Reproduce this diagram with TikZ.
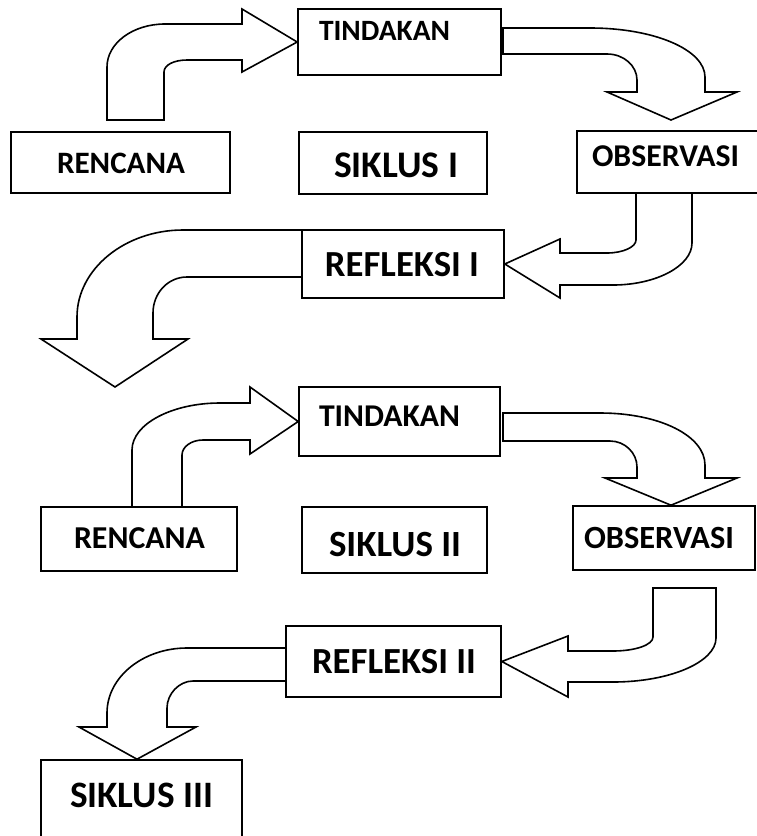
\documentclass[tikz,border=0pt]{standalone}
\usepackage{fontspec}
\setmainfont{Carlito}
\newcommand{\fitw}[2]{\resizebox{#1pt}{!}{\bfseries\fontsize{30}{32}\selectfont #2}}
\begin{document}
\begin{tikzpicture}[x=1pt,y=-1pt,
  box/.style={draw,line width=1.6pt,fill=white,rectangle,inner sep=0pt},
  blk/.style={draw,line width=1.6pt,fill=white,line join=miter},
  lbl/.style={inner sep=0pt}]
\useasboundingbox (0,0) rectangle (757,836);
% ---------- boxes ----------
\node[box,minimum width=219pt,minimum height=61pt] (ren1) at (120.5,162.5) {};
\node[box,minimum width=203pt,minimum height=66pt] (tin1) at (399.5,42) {};
\node[box,minimum width=188pt,minimum height=62pt] (sik1) at (393,163) {};
\node[box,minimum width=190pt,minimum height=62pt] (obs1) at (672,162) {};
\node[box,minimum width=202pt,minimum height=68pt] (ref1) at (403,264) {};
\node[box,minimum width=196pt,minimum height=64pt] (ren2) at (139,539) {};
\node[box,minimum width=201pt,minimum height=69pt] (tin2) at (399.5,421.5) {};
\node[box,minimum width=185pt,minimum height=66pt] (sik2) at (394.5,540) {};
\node[box,minimum width=182pt,minimum height=64pt] (obs2) at (664,538) {};
\node[box,minimum width=215pt,minimum height=71pt] (ref2) at (393.5,661.5) {};
\node[box,minimum width=201pt,minimum height=90pt] (sik3) at (141.5,805) {};
% ---------- block arrows ----------
% RENCANA I -> TINDAKAN I
\draw[blk] (107,120) -- (107,67) .. controls (107,43) and (133,24) .. (165,24)
  -- (242,24) -- (242,9) -- (tin1.west) -- (242,72) -- (242,60) -- (187,60)
  .. controls (174,60) and (164,65) .. (164,72) -- (164,120) -- cycle;
% TINDAKAN I -> OBSERVASI I
\draw[blk] (503,28) -- (590,28) .. controls (655,28) and (705,50) .. (705,77)
  -- (705,92) -- (737,92) -- (671,120) -- (607,92) -- (637,92) -- (637,80)
  .. controls (637,66) and (624,54) .. (607,54) -- (503,54) -- cycle;
% OBSERVASI I -> REFLEKSI I
\draw[blk] (636,193) -- (636,240) .. controls (636,247) and (623,253) .. (607,253)
  -- (560,253) -- (560,239) -- (ref1.east) -- (560,298) -- (560,285) -- (613,285)
  .. controls (656,285) and (692,266) .. (692,243) -- (692,193) -- cycle;
% REFLEKSI I -> siklus II
\coordinate (tip4) at (115,387);
\draw[blk] (302,230) -- (183,230) .. controls (125,230) and (77,269) .. (77,317)
  -- (77,339) -- (41,339) -- (tip4) -- (188,339) -- (153,339) -- (153,313)
  .. controls (153,293) and (168,277) .. (187,277) -- (302,277) -- cycle;
% RENCANA II -> TINDAKAN II
\draw[blk] (132,507) -- (132,450) .. controls (132,424) and (172,403) .. (220,403)
  -- (250,403) -- (250,387) -- (tin2.west) -- (250,454) -- (250,440) -- (203,440)
  .. controls (191,440) and (182,447) .. (182,455) -- (182,507) -- cycle;
% TINDAKAN II -> OBSERVASI II
\draw[blk] (503,413) -- (600,413) .. controls (660,413) and (705,436) .. (705,465)
  -- (705,478) -- (737,478) -- (obs2.north-|671,0) -- (605,478) -- (637,478) -- (637,467)
  .. controls (637,453) and (625,441) .. (610,441) -- (503,441) -- cycle;
% OBSERVASI II -> REFLEKSI II
\draw[blk] (653,588) -- (716,588) -- (716,638) .. controls (716,662) and (670,682) .. (613,682)
  -- (568,682) -- (568,697) -- (ref2.east) -- (568,636) -- (568,651) -- (613,651)
  .. controls (635,651) and (653,645) .. (653,637) -- cycle;
% REFLEKSI II -> SIKLUS III
\draw[blk] (286,648) -- (187,648) .. controls (143,648) and (107,677) .. (107,713)
  -- (107,727) -- (79,727) -- (sik3.north-|137,0) -- (196,727) -- (167,727) -- (167,708)
  .. controls (167,694) and (179,681) .. (193,681) -- (286,681) -- cycle;
% ---------- labels ----------
\node[lbl] (ren1t) at (121,163) {\fitw{128}{RENCANA}};
\node[lbl] (tin1t) at (384.5,31) {\fitw{131}{TINDAKAN}};
\node[lbl] (sik1t) at (396,165) {\fitw{124}{SIKLUS I}};
\node[lbl] (obs1t) at (665.5,156) {\fitw{147}{OBSERVASI}};
\node[lbl] (ref1t) at (402,264.5) {\fitw{154}{REFLEKSI I}};
\node[lbl] (ren2t) at (139.5,538.5) {\fitw{131}{RENCANA}};
\node[lbl] (tin2t) at (389.5,416) {\fitw{141}{TINDAKAN}};
\node[lbl] (sik2t) at (395,544.5) {\fitw{132}{SIKLUS II}};
\node[lbl] (obs2t) at (659,537.5) {\fitw{150}{OBSERVASI}};
\node[lbl] (ref2t) at (394,662) {\fitw{164}{REFLEKSI II}};
\node[lbl] (sik3t) at (141.5,795) {\fitw{143}{SIKLUS III}};
\end{tikzpicture}
\end{document}
